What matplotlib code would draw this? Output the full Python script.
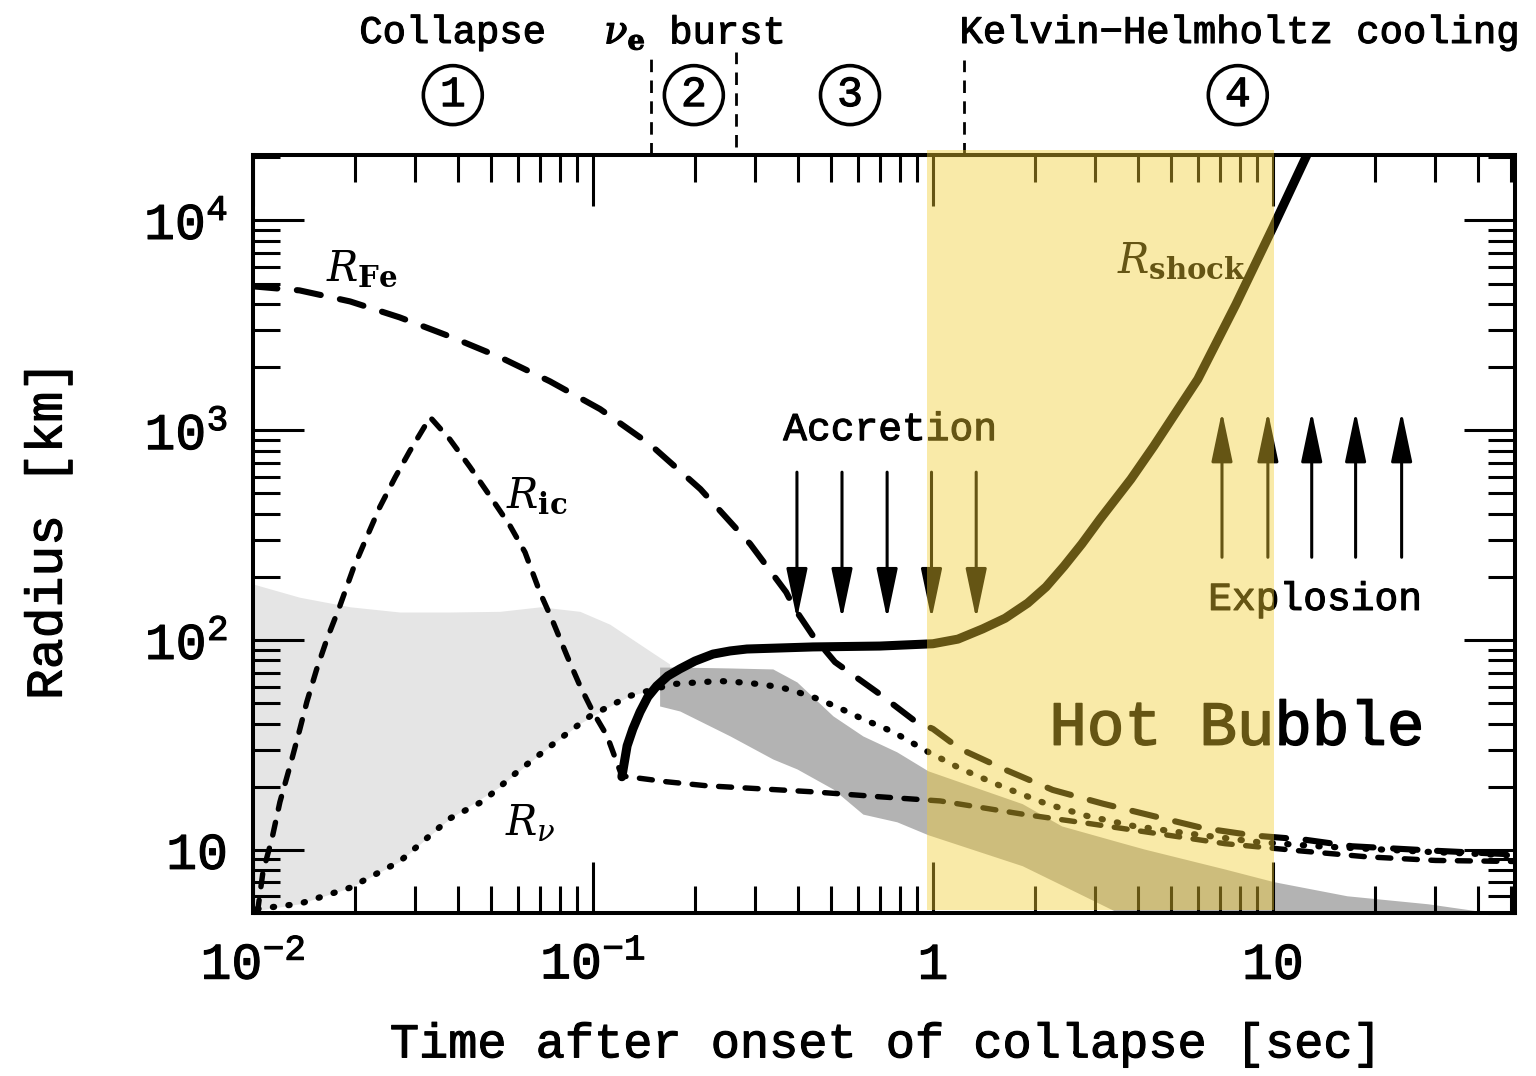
import numpy as np
import matplotlib
matplotlib.use("Agg")
import matplotlib.pyplot as plt
from matplotlib import transforms
from matplotlib import patheffects as pe
from matplotlib.patches import ArrowStyle
from matplotlib.ticker import LogLocator, NullFormatter, FixedLocator, FixedFormatter

plt.rcParams["font.family"] = ["Liberation Mono", "DejaVu Sans"]
plt.rcParams["font.weight"] = "normal"
plt.rcParams["mathtext.fontset"] = "custom"
plt.rcParams["mathtext.rm"] = "Liberation Mono"
plt.rcParams["mathtext.it"] = "Liberation Mono:italic"
plt.rcParams["mathtext.bf"] = "Liberation Mono:bold"

# slightly thickened strokes for the typewriter lettering
heavy = [pe.withStroke(linewidth=0.8, foreground="k")]

# ---- data: radii [km] versus time after onset of collapse [s] ----
# iron core radius
t_fe = [0.010, 0.0137, 0.0193, 0.027, 0.0379, 0.0532, 0.0747, 0.105, 0.147,
        0.207, 0.29, 0.37, 0.392, 0.444, 0.515, 0.684, 0.885, 1.0, 1.2, 1.66,
        2.25, 3.16, 4.44, 6.22, 8.79, 12.3, 17.1, 30.0, 51.5]
r_fe = [4850, 4640, 4110, 3450, 2800, 2230, 1710, 1260, 857,
        524, 287, 169, 141, 104.5, 78.5, 56.5, 41.1, 37.7, 30.3, 23.8,
        19.3, 16.6, 14.5, 12.7, 11.7, 11.2, 10.4, 9.9, 9.5]

# inner (homologous) core radius
t_ic = [0.0103, 0.0107, 0.01137, 0.0120, 0.01285, 0.01374, 0.0144, 0.0154,
        0.0165, 0.0180, 0.0197, 0.0216, 0.0236, 0.0262, 0.0289, 0.0332,
        0.0379, 0.0435, 0.0498, 0.0571, 0.0631, 0.0698, 0.0763, 0.0839,
        0.0916, 0.100, 0.110, 0.1216, 0.165, 0.216, 0.284, 0.444, 0.698,
        1.05, 1.83, 2.92, 4.65, 7.23, 11.9, 18.9, 30.1, 51.5]
r_ic = [5.0, 7.86, 11.3, 16.9, 25.1, 37.7, 50.7, 72.8,
        101, 145, 218, 309, 430, 597, 794, 1153,
        906, 667, 485, 349, 262, 169, 122, 83.9,
        60.4, 45.4, 34.9, 22.5, 21.1, 20.2, 19.7, 18.9, 17.9,
        17.1, 14.8, 13.3, 11.9, 10.7, 9.9, 9.26, 8.9, 8.8]

# neutrinosphere radius
t_nu = [0.0103, 0.0137, 0.0193, 0.027, 0.0379, 0.0476, 0.0598, 0.0799,
        0.0981, 0.128, 0.172, 0.236, 0.289, 0.355, 0.436, 0.522, 0.62,
        0.763, 0.967, 1.21, 1.60, 2.15, 2.84, 3.88, 5.78, 8.97, 13.6,
        28.6, 51.5]
r_nu = [5.23, 5.53, 6.6, 8.8, 14.1, 17.1, 23.5, 33.8,
        43.4, 54.1, 61.7, 63.8, 62.4, 59.7, 54.1, 48.0, 42.1,
        36.5, 29.3, 24.3, 20.0, 16.6, 14.5, 13.0, 11.9, 10.9, 10.4,
        9.78, 9.4]

# shock radius
t_sh = [0.1216, 0.126, 0.131, 0.1375, 0.145, 0.154, 0.166, 0.180, 0.1995,
        0.2254, 0.253, 0.2836, 0.4436, 0.698, 1.0, 1.184, 1.40, 1.63, 1.90,
        2.15, 2.43, 2.74, 3.10, 3.82, 4.46, 5.19, 6.01, 7.78, 10.0, 12.6]
r_sh = [22.3, 31.3, 37.7, 45.4, 53.6, 60.4, 67.4, 72.8, 79.4,
        85.7, 88.7, 90.6, 92.7, 93.6, 96, 101, 113, 127, 150,
        179, 225, 287, 377, 584, 839, 1220, 1750, 3980, 9270, 20600]

# shaded bands
t_light = [0.0100, 0.0137, 0.0193, 0.027, 0.0379, 0.0532, 0.070, 0.0915,
           0.112, 0.128, 0.147, 0.168]
light_hi = [185, 160, 144, 136, 136, 137, 144, 137, 119, 103, 88.7, 76.9]
light_lo = [5.1, 5.53, 6.6, 8.8, 14.1, 20.0, 28.7, 40.0, 48.3, 54.1, 57.5, 61.3]

t_dark = [0.157, 0.180, 0.253, 0.338, 0.398, 0.508, 0.622, 0.783, 0.967,
          1.83, 2.39, 3.52, 4.17, 7.22, 10.05, 16.5, 28.6, 39.5, 51.5]
dark_hi = [74.3, 74.3, 73.6, 72.8, 63.1, 43.5, 34.9, 29.3, 23.8,
           16.6, 13.0, 10.9, 10.1, 8.1, 7.05, 6.04, 5.53, 5.13, 4.9]
dark_lo = [48.5, 45.9, 34.9, 27.1, 24.3, 19.5, 14.8, 13.6, 11.8,
           8.4, 6.8, 5.0, 4.6, 4.5, 4.5, 4.5, 4.5, 4.5, 4.5]

# flow arrows
acc_t = [0.398, 0.54, 0.733, 0.99, 1.34]
acc_tail, acc_tip = 631, 126
exp_t = [7.08, 9.66, 13.0, 17.5, 23.9]
exp_tail, exp_tip = 248, 1230

# phase boundaries and the hot-bubble interval
phase_t = [0.148, 0.264, 1.23]
bubble_t = (0.96, 10.05)

x_ticks = [0.01, 0.1, 1, 10]
x_labels = [r"$10^{-2}$", r"$10^{-1}$", "1", "10"]
y_ticks = [10, 100, 1000, 10000]
y_labels = ["10", r"$10^2$", r"$10^3$", r"$10^4$"]

# ---- figure ----
fig = plt.figure(figsize=(15.36, 10.76), dpi=100)
ax = fig.add_axes([0.16471, 0.15149, 0.82161, 0.70446])
ax.set_xscale("log")
ax.set_yscale("log")
ax.set_xlim(0.01, 51.5)
ax.set_ylim(5, 2.05e4)

ax.fill_between(t_light, light_lo, light_hi, color="#e5e5e5", lw=0, zorder=1)
ax.fill_between(t_dark, dark_lo, dark_hi, color="#b3b3b3", lw=0, zorder=1.1)

ax.plot(t_fe, r_fe, color="k", lw=4.4, dashes=(4.0, 3.2),
        dash_capstyle="round", zorder=3)
ax.plot(t_ic, r_ic, color="k", lw=3.9, dashes=(2.4, 2.5),
        dash_capstyle="round", zorder=3)
ax.plot(t_nu, r_nu, color="k", lw=4.5, dashes=(0.2, 2.3),
        dash_capstyle="round", zorder=3)
ax.plot(t_sh, r_sh, color="k", lw=6.5, solid_capstyle="round",
        solid_joinstyle="round", zorder=4)

arrow_style = ArrowStyle("-|>", head_length=3.1, head_width=0.65)
for t in acc_t:
    ax.annotate("", xy=(t, acc_tip), xytext=(t, acc_tail),
                arrowprops=dict(arrowstyle=arrow_style, mutation_scale=10,
                                lw=2.2, color="k", shrinkA=0, shrinkB=0),
                zorder=5)
for t in exp_t:
    ax.annotate("", xy=(t, exp_tip), xytext=(t, exp_tail),
                arrowprops=dict(arrowstyle=arrow_style, mutation_scale=10,
                                lw=2.2, color="k", shrinkA=0, shrinkB=0),
                zorder=5)

# curve labels
lab = dict(math_fontfamily="dejavuserif", fontsize=30, ha="center",
           va="center", zorder=5)
ax.text(0.0209, 5850, r"$R_{\mathbf{Fe}}$", **lab)
ax.text(0.0684, 485, r"$R_{\mathbf{ic}}$", **lab)
ax.text(0.0653, 13.3, r"$R_{\nu}$", **lab)
ax.text(5.40, 6380, r"$R_{\mathbf{shock}}$", **lab)

ax.text(0.748, 1012, "Accretion", fontsize=28.5, ha="center", va="center",
        zorder=5, path_effects=heavy)
ax.text(13.3, 157, "Explosion", fontsize=28.5, ha="center", va="center",
        zorder=5, path_effects=heavy)
ax.text(7.83, 38, "Hot Bubble", fontsize=45, ha="center", va="center",
        zorder=5, path_effects=[pe.withStroke(linewidth=1.1, foreground="k")])

# phases above the frame
trans = transforms.blended_transform_factory(ax.transData, ax.transAxes)
top = dict(transform=trans, ha="center", va="center", fontsize=28,
           clip_on=False)
ax.text(0.0387, 1.161, "Collapse", path_effects=heavy, **top)
ax.text(0.198, 1.161, r"$\nu_{\mathbf{e}}$ burst",
        math_fontfamily="dejavuserif", path_effects=heavy, **top)
ax.text(8.0, 1.161, "Kelvin\u2212Helmholtz cooling", path_effects=heavy, **top)
circ = dict(boxstyle="circle,pad=0.22", fc="none", ec="k", lw=2.6)
for t, s in zip([0.0387, 0.198, 0.570, 7.88], ["1", "2", "3", "4"]):
    ax.text(t, 1.079, s, bbox=circ, path_effects=heavy,
            **{**top, "fontsize": 31})

phase_y = [(1.0, 1.129), (1.0106, 1.136), (1.0, 1.125)]
for t, (y0, y1) in zip(phase_t, phase_y):
    ax.plot([t, t], [y0, y1], transform=trans, clip_on=False, color="k",
            lw=2.0, dashes=(4.5, 3.0))

# hot-bubble phase band, laid over everything
ax.axvspan(bubble_t[0], bubble_t[1], ymin=0.004, ymax=1.0066,
           color="#f3cd30", alpha=0.42, lw=0, zorder=10, clip_on=False)

# axes, ticks and labels
for sp in ax.spines.values():
    sp.set_linewidth(2.9)
ax.xaxis.set_major_locator(FixedLocator(x_ticks))
ax.xaxis.set_major_formatter(FixedFormatter(x_labels))
ax.yaxis.set_major_locator(FixedLocator(y_ticks))
ax.yaxis.set_major_formatter(FixedFormatter(y_labels))
ax.xaxis.set_minor_locator(LogLocator(base=10, subs=np.arange(2, 10), numticks=100))
ax.yaxis.set_minor_locator(LogLocator(base=10, subs=np.arange(2, 10), numticks=100))
ax.xaxis.set_minor_formatter(NullFormatter())
ax.yaxis.set_minor_formatter(NullFormatter())
ax.tick_params(which="major", direction="in", length=37, width=2.2,
               top=True, right=True, labelsize=37)
ax.tick_params(which="minor", direction="in", length=19.5, width=2.2,
               top=True, right=True)
ax.tick_params(axis="x", which="major", pad=20)
ax.tick_params(axis="y", which="major", pad=18)
for tl in ax.get_xticklabels() + ax.get_yticklabels():
    tl.set_path_effects(heavy)

ax.text(0.5008, -0.174, "Time after onset of collapse [sec]",
        transform=ax.transAxes, ha="center", va="center", fontsize=35,
        path_effects=heavy)
ax.text(-0.1624, 0.505, "Radius [km]", transform=ax.transAxes,
        ha="center", va="center", rotation=90, fontsize=37,
        path_effects=heavy)

fig.savefig("out.png", dpi=100)
